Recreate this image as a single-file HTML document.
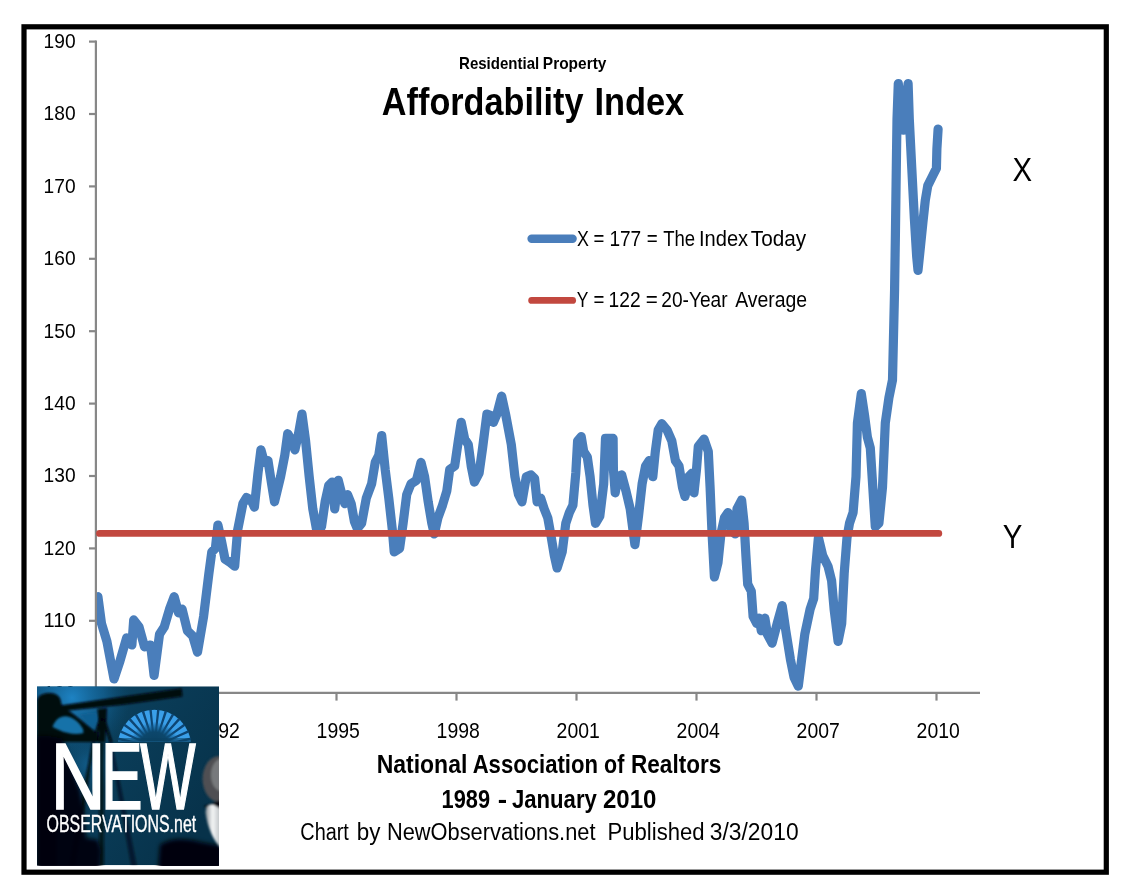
<!DOCTYPE html>
<html lang="en">
<head>
<meta charset="utf-8">
<title>Residential Property Affordability Index</title>
<style>
html,body{margin:0;padding:0;background:#fff;}
body{width:1139px;height:894px;overflow:hidden;}
svg{display:block;font-family:"Liberation Sans", sans-serif;}
</style>
</head>
<body>
<svg width="1139" height="894" viewBox="0 0 1139 894">
<rect width="1139" height="894" fill="#fff"/>
<defs><clipPath id="plotclip"><rect x="97" y="30" width="900" height="680"/></clipPath></defs>
<rect x="24" y="26.8" width="1082.3" height="845.4" fill="#fff" stroke="#000" stroke-width="5.2"/>
<g stroke="#878787" stroke-width="2.2" fill="none">
<path d="M95.9,40.6 V693.9"/>
<path d="M94.9,692.9 H980"/>
<path d="M89,693.2 H95.9"/>
<path d="M89,620.8 H95.9"/>
<path d="M89,548.4 H95.9"/>
<path d="M89,476.0 H95.9"/>
<path d="M89,403.6 H95.9"/>
<path d="M89,331.2 H95.9"/>
<path d="M89,258.8 H95.9"/>
<path d="M89,186.4 H95.9"/>
<path d="M89,114.0 H95.9"/>
<path d="M89,41.6 H95.9"/>
<path d="M96.5,692.9 V700.6"/>
<path d="M216.5,692.9 V700.6"/>
<path d="M336.5,692.9 V700.6"/>
<path d="M456.5,692.9 V700.6"/>
<path d="M576.5,692.9 V700.6"/>
<path d="M696.5,692.9 V700.6"/>
<path d="M816.5,692.9 V700.6"/>
<path d="M936.5,692.9 V700.6"/>
</g>
<text x="43.6" y="699.5" font-size="21" font-weight="normal" text-anchor="start" fill="#000" textLength="32" lengthAdjust="spacingAndGlyphs">100</text>
<text x="43.6" y="627.1" font-size="21" font-weight="normal" text-anchor="start" fill="#000" textLength="32" lengthAdjust="spacingAndGlyphs">110</text>
<text x="43.6" y="554.7" font-size="21" font-weight="normal" text-anchor="start" fill="#000" textLength="32" lengthAdjust="spacingAndGlyphs">120</text>
<text x="43.6" y="482.3" font-size="21" font-weight="normal" text-anchor="start" fill="#000" textLength="32" lengthAdjust="spacingAndGlyphs">130</text>
<text x="43.6" y="409.9" font-size="21" font-weight="normal" text-anchor="start" fill="#000" textLength="32" lengthAdjust="spacingAndGlyphs">140</text>
<text x="43.6" y="337.5" font-size="21" font-weight="normal" text-anchor="start" fill="#000" textLength="32" lengthAdjust="spacingAndGlyphs">150</text>
<text x="43.6" y="265.1" font-size="21" font-weight="normal" text-anchor="start" fill="#000" textLength="32" lengthAdjust="spacingAndGlyphs">160</text>
<text x="43.6" y="192.7" font-size="21" font-weight="normal" text-anchor="start" fill="#000" textLength="32" lengthAdjust="spacingAndGlyphs">170</text>
<text x="43.6" y="120.3" font-size="21" font-weight="normal" text-anchor="start" fill="#000" textLength="32" lengthAdjust="spacingAndGlyphs">180</text>
<text x="43.6" y="47.9" font-size="21" font-weight="normal" text-anchor="start" fill="#000" textLength="32" lengthAdjust="spacingAndGlyphs">190</text>
<text x="76.6" y="738.2" font-size="21.4" font-weight="normal" text-anchor="start" fill="#000" textLength="43.2" lengthAdjust="spacingAndGlyphs">1989</text>
<text x="196.6" y="738.2" font-size="21.4" font-weight="normal" text-anchor="start" fill="#000" textLength="43.2" lengthAdjust="spacingAndGlyphs">1992</text>
<text x="316.6" y="738.2" font-size="21.4" font-weight="normal" text-anchor="start" fill="#000" textLength="43.2" lengthAdjust="spacingAndGlyphs">1995</text>
<text x="436.6" y="738.2" font-size="21.4" font-weight="normal" text-anchor="start" fill="#000" textLength="43.2" lengthAdjust="spacingAndGlyphs">1998</text>
<text x="556.6" y="738.2" font-size="21.4" font-weight="normal" text-anchor="start" fill="#000" textLength="43.2" lengthAdjust="spacingAndGlyphs">2001</text>
<text x="676.6" y="738.2" font-size="21.4" font-weight="normal" text-anchor="start" fill="#000" textLength="43.2" lengthAdjust="spacingAndGlyphs">2004</text>
<text x="796.6" y="738.2" font-size="21.4" font-weight="normal" text-anchor="start" fill="#000" textLength="43.2" lengthAdjust="spacingAndGlyphs">2007</text>
<text x="916.6" y="738.2" font-size="21.4" font-weight="normal" text-anchor="start" fill="#000" textLength="43.2" lengthAdjust="spacingAndGlyphs">2010</text>
<path d="M97.9,596.7 L101.5,623.5 L106.9,641.4 L114.0,679.0 L119.4,662.9 L126.6,637.9 L131.9,645.0 L133.7,619.9 L139.1,627.1 L144.5,646.8 L150.6,645.0 L154.1,675.5 L159.5,634.3 L164.2,627.1 L169.5,609.2 L174.2,596.7 L178.5,612.8 L182.1,609.2 L187.4,630.7 L192.8,636.1 L197.5,652.2 L203.6,616.4 L208.9,573.4 L211.8,551.9 L215.4,548.3 L217.9,525.0 L221.5,541.2 L225.0,559.1 L230.4,562.6 L234.7,566.2 L237.6,530.4 L242.9,503.6 L246.5,497.5 L251.2,500.0 L254.4,507.1 L258.0,473.1 L260.9,449.8 L264.4,462.4 L268.0,460.6 L271.6,483.9 L274.5,501.8 L280.6,476.7 L284.8,455.2 L287.7,433.7 L292.0,440.9 L294.9,449.8 L298.5,433.7 L302.0,414.0 L305.6,440.9 L309.2,476.7 L312.8,508.9 L316.4,528.6 L321.5,526.8 L325.1,501.8 L328.7,485.6 L332.2,482.1 L334.7,508.9 L338.3,480.3 L341.9,494.6 L344.8,503.6 L347.6,494.6 L351.2,503.6 L354.4,521.5 L357.3,528.6 L361.6,523.3 L366.3,498.2 L371.6,483.9 L375.2,462.4 L378.8,455.2 L381.7,435.5 L385.2,469.5 L388.8,498.2 L392.4,530.4 L394.2,551.9 L399.6,548.3 L403.1,523.3 L406.7,494.6 L411.0,483.9 L416.4,480.3 L421.0,462.4 L424.6,476.7 L428.2,501.8 L431.8,523.3 L434.3,534.0 L437.9,517.9 L442.5,505.3 L446.8,491.0 L449.7,469.5 L454.7,466.0 L458.3,440.9 L461.2,422.3 L464.7,439.1 L468.3,444.5 L471.2,466.0 L474.4,482.1 L479.1,473.1 L482.6,448.0 L486.9,414.0 L491.6,415.8 L493.4,422.3 L497.0,414.0 L501.6,396.1 L505.9,415.8 L511.3,444.5 L514.9,476.7 L518.5,494.6 L522.0,501.8 L526.3,476.7 L531.0,474.9 L534.6,478.5 L537.1,501.8 L540.7,498.2 L544.2,508.9 L547.8,517.9 L550.7,534.0 L554.3,555.5 L557.1,568.0 L562.2,551.9 L565.8,523.3 L569.4,512.5 L572.9,505.3 L575.8,473.1 L577.6,440.9 L581.2,436.6 L583.7,451.6 L587.3,457.0 L590.1,476.7 L593.0,505.3 L595.5,523.3 L599.8,516.1 L603.7,483.9 L605.5,438.4 L613.1,438.4 L613.4,469.5 L615.2,492.8 L618.1,476.7 L621.7,474.9 L626.0,491.0 L630.2,508.9 L634.9,544.7 L638.5,516.1 L642.1,483.9 L645.6,466.0 L649.2,460.6 L652.8,476.7 L655.3,451.6 L658.2,430.1 L661.8,423.7 L667.1,430.1 L671.8,440.9 L675.4,460.6 L679.0,466.0 L682.5,487.4 L685.0,496.4 L688.6,476.7 L692.2,473.1 L694.0,492.8 L696.5,469.5 L698.3,446.3 L704.0,439.1 L708.3,451.6 L710.1,487.4 L711.9,530.4 L714.4,577.0 L718.0,562.6 L720.9,534.0 L724.4,517.9 L728.0,512.5 L731.6,530.4 L735.2,534.0 L737.0,508.9 L741.6,500.0 L744.1,523.3 L745.9,555.5 L747.7,584.1 L751.3,591.3 L753.1,616.4 L756.7,623.5 L759.2,618.2 L761.3,630.7 L764.9,618.2 L767.4,634.3 L772.1,643.2 L777.2,623.5 L782.2,605.6 L785.8,630.7 L790.4,659.3 L794.0,677.2 L798.3,686.2 L801.2,662.9 L804.8,634.3 L810.1,609.2 L813.7,598.5 L815.5,569.8 L818.4,537.6 L822.7,555.5 L828.0,566.2 L831.6,580.6 L834.1,609.2 L838.1,641.4 L841.7,623.5 L844.2,573.4 L847.0,537.6 L849.5,523.3 L853.1,512.5 L856.0,476.7 L857.4,423.0 L861.3,393.6 L864.6,415.8 L867.4,437.3 L870.3,448.0 L872.8,487.4 L875.3,526.8 L878.9,523.3 L882.5,487.4 L885.3,423.0 L888.9,397.9 L892.5,380.0 L894.6,288.9 L895.3,242.1 L896.3,168.4 L897.0,119.2 L898.3,83.5 L903.2,130.2 L908.1,83.5 L909.3,119.2 L911.8,168.4 L914.3,217.5 L916.7,256.9 L918.0,270.4 L920.4,247.0 L922.9,222.5 L925.3,200.3 L927.8,185.6 L932.7,175.7 L936.4,168.4 L936.9,148.7 L938.1,129.0" stroke="#4a7ebb" stroke-width="9.2" clip-path="url(#plotclip)" stroke-linecap="round" stroke-linejoin="round" fill="none"/>
<path d="M99.5,533.45 H938.8" stroke="#c2483f" stroke-width="6.8" stroke-linecap="round" fill="none"/>
<path d="M531.6,238.7 H572.6" stroke="#4a7ebb" stroke-width="8.4" stroke-linecap="round"/>
<path d="M531.7,300.4 H572.6" stroke="#c2483f" stroke-width="6.9" stroke-linecap="round"/>
<text x="1012.6" y="180.7" font-size="33.1" font-weight="normal" text-anchor="start" fill="#000" textLength="19.6" lengthAdjust="spacingAndGlyphs">X</text>
<text x="1002.7" y="547.7" font-size="33" font-weight="normal" text-anchor="start" fill="#000" textLength="19.6" lengthAdjust="spacingAndGlyphs">Y</text>
<text y="68.9" font-size="17.1" font-weight="bold" fill="#000"><tspan x="459.04" textLength="80.23" lengthAdjust="spacingAndGlyphs">Residential</tspan> <tspan x="542.86" textLength="63.54" lengthAdjust="spacingAndGlyphs">Property</tspan></text>
<text y="115.0" font-size="39.2" font-weight="bold" fill="#000"><tspan x="381.86" textLength="201.58" lengthAdjust="spacingAndGlyphs">Affordability</tspan> <tspan x="594.39" textLength="89.89" lengthAdjust="spacingAndGlyphs">Index</tspan></text>
<text y="245.9" font-size="21.9" font-weight="normal" fill="#000"><tspan x="577.04" textLength="11.92" lengthAdjust="spacingAndGlyphs">X</tspan> <tspan x="593.42" textLength="10.87" lengthAdjust="spacingAndGlyphs">=</tspan> <tspan x="609.38" textLength="31.87" lengthAdjust="spacingAndGlyphs">177</tspan> <tspan x="646.66" textLength="10.96" lengthAdjust="spacingAndGlyphs">=</tspan> <tspan x="663.15" textLength="31.95" lengthAdjust="spacingAndGlyphs">The</tspan> <tspan x="698.96" textLength="49.15" lengthAdjust="spacingAndGlyphs">Index</tspan> <tspan x="750.86" textLength="55.34" lengthAdjust="spacingAndGlyphs">Today</tspan></text>
<text y="306.8" font-size="21.7" font-weight="normal" fill="#000"><tspan x="576.83" textLength="11.32" lengthAdjust="spacingAndGlyphs">Y</tspan> <tspan x="593.38" textLength="10.89" lengthAdjust="spacingAndGlyphs">=</tspan> <tspan x="608.55" textLength="32.02" lengthAdjust="spacingAndGlyphs">122</tspan> <tspan x="645.71" textLength="12.03" lengthAdjust="spacingAndGlyphs">=</tspan> <tspan x="661.34" textLength="66.23" lengthAdjust="spacingAndGlyphs">20-Year</tspan> <tspan x="735.17" textLength="72.0" lengthAdjust="spacingAndGlyphs">Average</tspan></text>
<text y="772.9" font-size="26" font-weight="bold" fill="#000"><tspan x="376.66" textLength="90.66" lengthAdjust="spacingAndGlyphs">National</tspan> <tspan x="472.65" textLength="125.32" lengthAdjust="spacingAndGlyphs">Association</tspan> <tspan x="604.05" textLength="20.25" lengthAdjust="spacingAndGlyphs">of</tspan> <tspan x="631.0" textLength="90.26" lengthAdjust="spacingAndGlyphs">Realtors</tspan></text>
<text y="807.9" font-size="26" font-weight="bold" fill="#000"><tspan x="441.61" textLength="48.5" lengthAdjust="spacingAndGlyphs">1989</tspan> <tspan x="497.82" textLength="9.37" lengthAdjust="spacingAndGlyphs">-</tspan> <tspan x="511.96" textLength="84.92" lengthAdjust="spacingAndGlyphs">January</tspan> <tspan x="602.98" textLength="53.47" lengthAdjust="spacingAndGlyphs">2010</tspan></text>
<text y="839.9" font-size="23" font-weight="normal" fill="#000"><tspan x="300.33" textLength="48.57" lengthAdjust="spacingAndGlyphs">Chart</tspan> <tspan x="356.73" textLength="23.64" lengthAdjust="spacingAndGlyphs">by</tspan> <tspan x="387.0" textLength="208.45" lengthAdjust="spacingAndGlyphs">NewObservations.net</tspan> <tspan x="607.58" textLength="96.96" lengthAdjust="spacingAndGlyphs">Published</tspan> <tspan x="709.8" textLength="88.79" lengthAdjust="spacingAndGlyphs">3/3/2010</tspan></text>
<g id="logo">
<defs>
<clipPath id="lgclip"><rect x="37" y="686.3" width="182" height="179"/></clipPath>
<clipPath id="sunclip"><rect x="116.60000000000001" y="708.8000000000001" width="75.6" height="32.8"/></clipPath>
<linearGradient id="lgbg" gradientUnits="userSpaceOnUse" x1="37" y1="686" x2="219" y2="800"><stop offset="0" stop-color="#0d4e75"/><stop offset="0.45" stop-color="#0a3d59"/><stop offset="1" stop-color="#07324a"/></linearGradient>
<radialGradient id="lgglow" gradientUnits="userSpaceOnUse" cx="72" cy="698" r="58"><stop offset="0" stop-color="#1f86c8" stop-opacity="0.95"/><stop offset="0.55" stop-color="#15699f" stop-opacity="0.6"/><stop offset="1" stop-color="#0e5078" stop-opacity="0"/></radialGradient>
<radialGradient id="lgglow2" gradientUnits="userSpaceOnUse" cx="90" cy="765" r="30"><stop offset="0" stop-color="#14679a" stop-opacity="0.8"/><stop offset="1" stop-color="#0e5078" stop-opacity="0"/></radialGradient>
<radialGradient id="sunin" gradientUnits="userSpaceOnUse" cx="154.4" cy="746.6" r="36.8"><stop offset="0" stop-color="#0a3f5e"/><stop offset="0.4" stop-color="#0c476c"/><stop offset="0.55" stop-color="#0f5687" stop-opacity="0.55"/><stop offset="0.68" stop-color="#0f5687" stop-opacity="0"/></radialGradient>
<linearGradient id="micg" x1="0" y1="0" x2="1" y2="0"><stop offset="0" stop-color="#8d9296"/><stop offset="0.45" stop-color="#f4f6f7"/><stop offset="1" stop-color="#b9bdc0"/></linearGradient>
<filter id="soft" x="-10%" y="-10%" width="120%" height="120%"><feGaussianBlur stdDeviation="1.1"/></filter>
<filter id="softer" x="-20%" y="-20%" width="140%" height="140%"><feGaussianBlur stdDeviation="2.2"/></filter>
</defs>
<g clip-path="url(#lgclip)">
<rect x="37" y="686.3" width="182" height="179" fill="url(#lgbg)"/>
<rect x="37" y="686.3" width="182" height="179" fill="url(#lgglow)"/>
<rect x="37" y="686.3" width="182" height="179" fill="url(#lgglow2)"/>
<g clip-path="url(#sunclip)">
<circle cx="154.4" cy="746.6" r="36.8" fill="#3a9fe9"/>
<path d="M144.4,747.5 L117.1,747.8 L117.1,745.4 L144.4,745.7Z M144.5,745.4 L117.7,740.1 L118.2,737.6 L144.8,743.6Z M144.9,743.4 L119.8,732.6 L120.8,730.3 L145.7,741.7Z M145.8,741.5 L123.5,725.7 L125.0,723.7 L146.9,740.0Z M147.1,739.8 L128.5,719.7 L130.4,718.1 L148.4,738.6Z M148.6,738.4 L134.7,714.9 L136.8,713.7 L150.2,737.5Z M150.5,737.4 L141.7,711.5 L144.1,710.8 L152.2,736.8Z M152.5,736.8 L149.3,709.7 L151.7,709.4 L154.3,736.6Z M154.5,736.6 L157.1,709.4 L159.5,709.7 L156.3,736.8Z M156.6,736.8 L164.7,710.8 L167.1,711.5 L158.3,737.4Z M158.6,737.5 L172.0,713.7 L174.1,714.9 L160.2,738.4Z M160.4,738.6 L178.4,718.1 L180.3,719.7 L161.7,739.8Z M161.9,740.0 L183.8,723.7 L185.3,725.7 L163.0,741.5Z M163.1,741.7 L188.0,730.3 L189.0,732.6 L163.9,743.4Z M164.0,743.6 L190.6,737.6 L191.1,740.1 L164.3,745.4Z M164.4,745.7 L191.7,745.4 L191.7,747.8 L164.4,747.5Z M164.3,747.8 L191.1,753.1 L190.6,755.6 L164.0,749.6Z" fill="#0d4573"/>
<circle cx="154.4" cy="746.6" r="36.8" fill="url(#sunin)"/>
<rect x="117.60000000000001" y="738" width="73.6" height="4" fill="#0b4262" opacity="0.55"/>
</g>
<g fill="#03070c" filter="url(#soft)">
<path d="M62,705.2 L181.7,688.2 L182.5,696.6 L121.3,705 L62,711.2 Z"/>
<path d="M37,701 C38,695 43,693 50,693 C57,693.2 61,697 61,702.5 L62.5,706.5 L66,709 L72,713 L86,724 L98,734 L100,742 L56.5,742 L56.5,866 L37,866 Z"/>
<path d="M97.5,709 L107,708 L106.5,720 L105,742 L99,742 L98,720 Z"/>
<path d="M101.5,719 L95.5,742 L92.5,742 L99,718 Z"/>
<path d="M102.5,719 L109.5,742 L112.5,742 L105,718 Z"/>
</g>
<g filter="url(#soft)">
<path d="M52.5,727 C55,720 60,716 66,716.3 C73,717 79,722 83,729 L83.5,733 C76,735 66,733.5 59,730 Z" fill="#1672a9"/>
<path d="M80,714.5 L96,712.5 L97.5,719 L94,729 L87,723 Z" fill="#115f92"/>
</g>
<g fill="#040a12" filter="url(#soft)">
<path d="M95,742 L75,866 L69,866 L92,742 Z" opacity="0.85"/>
<path d="M109,742 L131,866 L137,866 L112,742 Z" opacity="0.55"/>
<path d="M99,742 L99,866 L104,866 L104,742 Z" opacity="0.75"/>
</g>
<g fill="#02050a" filter="url(#softer)">
<path d="M50,736 L62,738 L80,790 L84,812 L86,838 L98,840 L101,850 L100,870 L37,870 L37,736 Z" opacity="0.95"/>
<path d="M160,845 C170,838 185,838 200,842 L222,846 L222,870 L158,870 Z"/>
</g>
<g filter="url(#soft)">
<ellipse cx="219" cy="779" rx="16.5" ry="23" fill="#4f5052"/>
<ellipse cx="221" cy="775" rx="10" ry="16" fill="#77797b"/>
<path d="M204,806 L210,812 L221,838 L221,800 Z" fill="#0a0f16"/>
<path d="M205.5,812 C206,806 210,803 214,805 L221,809 L221,848 C214,842 207,826 205.5,812 Z" fill="url(#micg)"/>
</g>
</g>
<text y="809" font-size="95.4" fill="#fff" stroke="#fff" stroke-width="1.7"><tspan x="50.6" textLength="55.2" lengthAdjust="spacingAndGlyphs">N</tspan><tspan x="101.1" textLength="41.6" lengthAdjust="spacingAndGlyphs">E</tspan><tspan x="140.2" textLength="55.4" lengthAdjust="spacingAndGlyphs">W</tspan></text>
<text x="46.6" y="832" font-size="23.3" fill="#fff" stroke="#fff" stroke-width="0.35" textLength="149.6" lengthAdjust="spacingAndGlyphs">OBSERVATIONS.net</text>
</g>
</svg>
</body>
</html>
